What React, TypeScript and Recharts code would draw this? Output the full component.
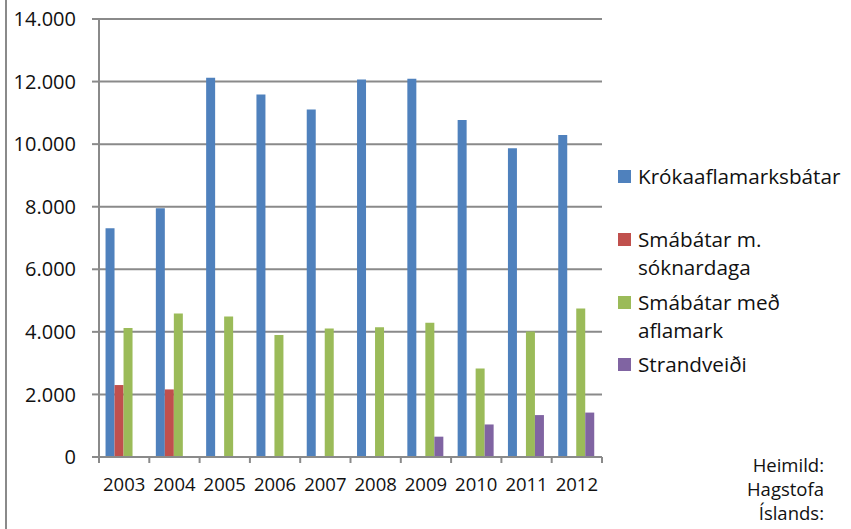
import { Bar, BarChart, CartesianGrid, XAxis, YAxis } from "recharts";

const years = ["2003", "2004", "2005", "2006", "2007", "2008", "2009", "2010", "2011", "2012"];
const krokaaflamark = [7310, 7950, 12120, 11590, 11110, 12070, 12090, 10770, 9870, 10290];
const soknardagar = [2300, 2160, null, null, null, null, null, null, null, null];
const aflamark = [4120, 4590, 4490, 3900, 4110, 4150, 4290, 2830, 4010, 4750];
const strandveidi = [null, null, null, null, null, null, 650, 1040, 1340, 1420];
const yTicks = [0, 2000, 4000, 6000, 8000, 10000, 12000, 14000];

const seriesKeys = ["krok", "sokn", "afla", "strand"];
const seriesNames = ["Krókaaflamarksbátar", "Smábátar m. sóknardaga", "Smábátar með aflamark", "Strandveiði"];
const seriesColors = ["#4F81BD", "#C0504D", "#9BBB59", "#8064A2"];
const sourceLines = ["Heimild:", "Hagstofa", "Íslands:"];

const data = years.map((year, i) => ({
  year,
  krok: krokaaflamark[i],
  sokn: soknardagar[i],
  afla: aflamark[i],
  strand: strandveidi[i],
}));

const FONT = "'Open Sans', sans-serif";
const GRID = "#8a8a8a";
const LEGEND_GAPS = [0, 35, 7, 6];

const formatThousands = (v: number) => String(v).replace(/\B(?=(\d{3})+(?!\d))/g, ".");

function YearTick(props: any) {
  const { x, y, payload, index, visibleTicksCount, width } = props;
  const count = visibleTicksCount ?? years.length;
  const half = (width ?? 503) / count / 2;
  const last = index === count - 1;
  return (
    <g>
      <line x1={x - half} x2={x - half} y1={y} y2={y + 6} stroke={GRID} strokeWidth={2} />
      {last && <line x1={x + half} x2={x + half} y1={y} y2={y + 6} stroke={GRID} strokeWidth={2} />}
      <text x={x} y={y + 34} textAnchor="middle" fontFamily={FONT} fontSize={18.5} fill="#111">
        {payload.value}
      </text>
    </g>
  );
}

export default function App() {
  return (
    <div style={{ position: "absolute", left: 0, top: 0, width: 851, height: 529, background: "#fff", overflow: "hidden" }}>
      <div style={{ position: "absolute", left: 5, top: 0, width: 2, height: 529, background: GRID }} />
      <BarChart
        width={851}
        height={529}
        data={data}
        margin={{ top: 19, right: 249, left: 0, bottom: 32 }}
        barCategoryGap="13%"
        barGap={0}
      >
        <CartesianGrid vertical={false} stroke={GRID} strokeWidth={2} />
        <XAxis
          dataKey="year"
          height={40}
          tickSize={0}
          tickMargin={0}
          tickLine={false}
          axisLine={{ stroke: GRID, strokeWidth: 2 }}
          tick={<YearTick />}
          interval={0}
        />
        <YAxis
          width={99}
          domain={[0, 14000]}
          ticks={yTicks}
          tickFormatter={formatThousands}
          tickSize={7}
          tickMargin={16}
          tickLine={{ stroke: GRID, strokeWidth: 2 }}
          axisLine={{ stroke: GRID, strokeWidth: 2 }}
          tick={{ fontFamily: FONT, fontSize: 20, fill: "#111" }}
        />
        {seriesKeys.map((key, i) => (
          <Bar key={key} dataKey={key} name={seriesNames[i]} fill={seriesColors[i]} isAnimationActive={false} />
        ))}
      </BarChart>
      <div style={{ position: "absolute", left: 618, top: 162, width: 220, fontFamily: FONT, fontSize: 20.7, lineHeight: "28px", color: "#111" }}>
        {seriesNames.map((name, i) => (
          <div key={name} style={{ display: "flex", alignItems: "flex-start", marginTop: LEGEND_GAPS[i] }}>
            <span style={{ width: 13, height: 13, marginTop: 8, marginRight: 7, background: seriesColors[i], flex: "none" }} />
            <span>{name}</span>
          </div>
        ))}
      </div>
      <div style={{ position: "absolute", right: 27, top: 453, textAlign: "right", fontFamily: FONT, fontSize: 18.5, lineHeight: "24px", color: "#111" }}>
        {sourceLines.map((line) => (
          <div key={line}>{line}</div>
        ))}
      </div>
    </div>
  );
}
